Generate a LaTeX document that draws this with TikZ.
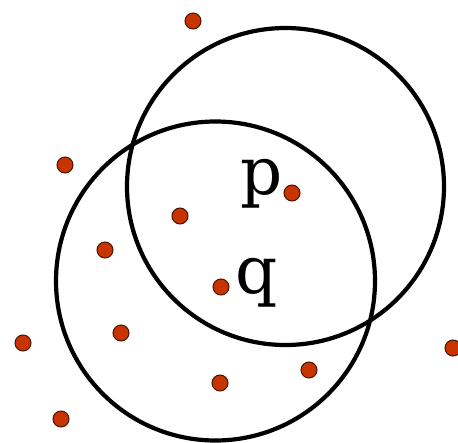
\documentclass[tikz,border=0pt]{standalone}
\usepackage{fontspec}
\newfontfamily\labelfont{DejaVu Serif}
\definecolor{dotfill}{RGB}{200,52,0}
\definecolor{dotedge}{RGB}{70,20,0}
\begin{document}
\begin{tikzpicture}[x=1pt,y=-1pt,
  ring/.style={draw=black,line width=4.2pt},
  pt/.style={circle,fill=dotfill,draw=dotedge,line width=1pt,minimum size=16pt,inner sep=0pt},
  lab/.style={anchor=base west,inner sep=0pt,font=\labelfont\fontsize{66}{66}\selectfont}]
\useasboundingbox (0,0) rectangle (458,442);
\draw[ring] (285.5,186.5) circle (158.5);
\draw[ring] (215.5,281) circle (159.5);
\node[pt] (d1) at (193,21) {};
\node[pt] (d2) at (65,165) {};
\node[pt] (d3) at (292,193) {};
\node[pt] (d4) at (180,216) {};
\node[pt] (d5) at (105,250) {};
\node[pt] (d6) at (221,287) {};
\node[pt] (d7) at (121,333) {};
\node[pt] (d8) at (23,343) {};
\node[pt] (d9) at (453,348) {};
\node[pt] (d10) at (309,370) {};
\node[pt] (d11) at (220,383) {};
\node[pt] (d12) at (61,419) {};
\node[lab] (p) at (240,194) {p};
\node[lab] (q) at (235,293) {q};
\end{tikzpicture}
\end{document}
